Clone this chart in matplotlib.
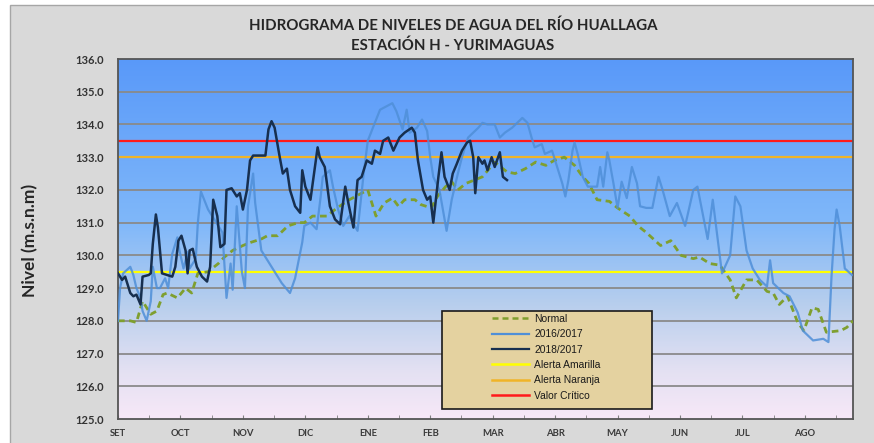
import numpy as np
import matplotlib.pyplot as plt
from matplotlib.patches import Rectangle
from matplotlib.lines import Line2D

# -----------------------------
# Data (days counted from 1 SET, level in m.s.n.m)
# -----------------------------
months = ["SET", "OCT", "NOV", "DIC", "ENE", "FEB", "MAR", "ABR", "MAY", "JUN", "JUL", "AGO"]

normal_day = [0, 6, 9, 12, 16, 19, 22, 24, 29, 33, 36, 39, 44, 49, 52, 56, 61, 65, 70, 73,
              78, 83, 88, 91, 95, 102, 107, 113, 122, 126, 130, 134, 137, 140, 145, 148, 153,
              156, 160, 163, 166, 170, 174, 178, 184, 190, 194, 199, 204, 209, 213, 218, 223,
              227, 230, 234, 240, 244, 250, 254, 258, 265, 270, 275, 281, 284, 289, 294, 299,
              302, 307, 312, 317, 320, 323, 327, 332, 335, 339, 342, 346, 353, 356, 359]
normal_lvl = [128.0, 128.0, 127.95, 128.6, 128.2, 128.3, 128.8, 128.85, 128.7, 129.0, 128.85,
              129.45, 129.5, 129.75, 129.95, 130.15, 130.3, 130.4, 130.5, 130.6, 130.6, 130.9,
              131.0, 131.0, 131.2, 131.2, 131.45, 131.7, 132.0, 131.2, 131.6, 131.75, 131.5,
              131.7, 131.7, 131.55, 131.45, 131.8, 132.1, 132.25, 132.0, 132.2, 132.3, 132.4,
              132.85, 132.55, 132.5, 132.65, 132.85, 132.75, 132.9, 133.0, 132.75, 132.4, 132.2,
              131.7, 131.65, 131.45, 131.2, 130.9, 130.7, 130.3, 130.45, 130.0, 129.9, 129.95,
              129.75, 129.7, 129.25, 128.7, 129.25, 129.25, 128.9, 128.85, 128.5, 128.75, 127.95,
              127.7, 128.4, 128.35, 127.65, 127.7, 127.8, 128.0]

y2016_day = [0, 1, 2.5, 6, 7.5, 9, 11, 12, 14, 16, 17, 19, 20.5, 23, 24.5, 26.5, 29, 30, 32, 34,
             35, 38, 39, 40.5, 44, 47, 51, 53, 55, 56, 58, 60.5, 62, 63.5, 66, 67, 70, 73, 77,
             80, 84, 86.5, 90, 91, 94, 97, 99, 100, 103.5, 105, 107.5, 110, 113, 117, 120, 122,
             124.5, 128, 131, 134, 136, 139, 141, 142.5, 146, 148.5, 151, 152.5, 154, 157,
             160.5, 163, 166, 168, 171, 176, 178, 180.5, 184, 186.5, 189, 192.5, 197.5, 200,
             202, 203.5, 207, 208.5, 212, 214.5, 217, 218.5, 220, 222, 223, 224.5, 227, 229.5,
             234, 235.5, 237, 239, 240, 242, 244, 246, 248.5, 251, 253.5, 255, 258, 261, 264,
             266, 269.5, 273, 277, 281, 283, 288, 290.5, 295, 299, 301.5, 304, 307, 310, 313.5,
             317, 318.5, 320, 325, 328, 332, 334.5, 339.5, 344.5, 347, 348.5, 350, 351, 352.5,
             355, 358.5]
y2016_lvl = [128.0, 129.0, 129.45, 129.65, 129.4, 129.0, 128.7, 128.3, 128.0, 128.6, 129.65,
             129.0, 129.0, 129.3, 129.0, 130.05, 130.55, 130.15, 129.6, 130.1, 129.6, 129.9,
             131.0, 131.95, 131.4, 131.1, 130.7, 128.7, 129.75, 128.95, 131.5, 129.5, 129.0,
             131.5, 132.5, 131.6, 130.15, 129.85, 129.45, 129.15, 128.85, 129.3, 130.4, 130.9,
             131.0, 130.8, 131.8, 132.4, 132.6, 132.1, 131.4, 130.9, 131.2, 130.75, 132.5,
             133.5, 133.9, 134.45, 134.55, 134.65, 134.4, 133.85, 134.45, 133.75, 133.9, 134.15,
             133.8, 133.0, 132.4, 132.0, 130.75, 131.7, 132.5, 133.0, 133.6, 133.9, 134.05,
             134.0, 134.0, 133.6, 133.75, 133.9, 134.2, 134.05, 133.6, 133.3, 133.4, 133.1,
             133.2, 132.7, 132.2, 131.8, 132.3, 133.2, 133.45, 133.1, 132.4, 132.1, 132.1,
             132.7, 132.1, 133.15, 132.9, 132.2, 131.45, 132.25, 131.75, 132.7, 132.2, 131.5,
             131.45, 131.45, 132.4, 132.0, 131.2, 131.6, 130.9, 132.0, 132.1, 130.5, 131.7,
             129.45, 130.0, 131.8, 131.5, 130.15, 129.6, 129.25, 129.05, 129.85, 129.15, 128.85,
             128.75, 128.25, 127.7, 127.4, 127.45, 127.35, 129.35, 130.8, 131.4, 130.9, 129.6,
             129.4]

y2018_day = [0, 2, 3.5, 6, 7.5, 9, 11, 12, 15, 16, 17, 18.5, 19.5, 21.5, 24, 26.5, 28, 29.5,
             31, 33, 34, 35, 36.5, 38.5, 41, 43.5, 45, 46.5, 48.5, 50, 52, 53, 55.5, 58, 59.5,
             61, 63, 64.5, 66, 72, 73.5, 75, 76.5, 79, 80.5, 82.5, 84, 86.5, 89, 90, 91.5, 94,
             97.5, 98.5, 101, 103.5, 106, 108.5, 111, 112.5, 115, 117, 119, 121.5, 124, 125.5,
             128, 129.5, 132, 134.5, 137.5, 140, 143.5, 145, 146.5, 149, 151, 152.5, 154,
             156.5, 158, 159.5, 162, 163.5, 165.5, 168, 170.5, 172, 173.5, 174.5, 176, 178,
             179, 180.5, 182.5, 184, 186.5, 188, 190]
y2018_lvl = [129.45, 129.25, 129.35, 128.85, 128.75, 128.8, 128.5, 129.35, 129.4, 129.45,
             130.35, 131.25, 130.85, 129.45, 129.4, 129.35, 129.65, 130.45, 130.6, 130.15,
             129.45, 130.15, 130.2, 129.65, 129.35, 129.2, 129.65, 131.7, 131.2, 130.25, 130.35,
             132.0, 132.05, 131.8, 131.9, 131.4, 132.0, 132.9, 133.05, 133.05, 133.85, 134.1,
             133.9, 133.0, 132.5, 132.65, 132.0, 131.5, 131.3, 132.6, 132.1, 131.7, 133.3,
             133.0, 132.7, 131.5, 131.1, 130.95, 132.1, 131.6, 130.85, 132.3, 132.4, 132.9,
             132.8, 133.2, 133.1, 133.5, 133.6, 133.2, 133.6, 133.75, 133.9, 133.75, 132.9,
             132.0, 131.7, 131.8, 131.0, 132.4, 133.15, 132.4, 132.0, 132.5, 132.8, 133.2,
             133.45, 133.5, 133.0, 131.9, 133.0, 132.8, 132.9, 132.6, 133.0, 132.7, 133.15,
             132.4, 132.3]

alerta_amarilla = 129.5
alerta_naranja = 133.0
valor_critico = 133.5

# -----------------------------
# Figure
# -----------------------------
fig = plt.figure(figsize=(8.74, 4.43), dpi=100, facecolor="white")
fig.patches.append(Rectangle((10 / 874, -0.01), 1, 1 - 5 / 443 + 0.01, transform=fig.transFigure,
                             facecolor="#d9d9d9", edgecolor="#a6a6a6", lw=1.0, zorder=-10))

ax = fig.add_axes([118 / 874, 24 / 443, 735 / 874, 360 / 443])
ax.set_zorder(1)
x_max = 359
ax.set_xlim(0, x_max)
ax.set_ylim(125, 136)

# gradient background
stops = np.array([125, 126.5, 128.5, 131, 136])
cols = np.array([[0.97, 0.91, 0.97],
                 [0.89, 0.88, 0.95],
                 [0.72, 0.81, 0.93],
                 [0.50, 0.72, 0.98],
                 [0.35, 0.60, 0.98]])
yy = np.linspace(125, 136, 300)
grad = np.stack([np.interp(yy, stops, cols[:, k]) for k in range(3)], axis=-1)
ax.imshow(grad[::-1, None, :], extent=[0, x_max, 125, 136], aspect="auto", zorder=0)

for v in np.arange(126, 136, 1.0):
    ax.axhline(v, color="#8a8a8a", lw=1.3, zorder=1)

ax.axhline(alerta_amarilla, color="#ffff00", lw=1.6, zorder=2)
ax.axhline(alerta_naranja, color="#f0b428", lw=1.6, zorder=2)
ax.axhline(valor_critico, color="#ff1a1a", lw=1.6, zorder=2)

ax.plot(normal_day, normal_lvl, color="#7f9f2f", lw=2.0, ls=(0, (2.4, 1.6)), zorder=3,
        dash_joinstyle="round")
ax.plot(y2016_day, y2016_lvl, color="#4f8fd8", lw=1.6, alpha=0.85, zorder=3.5,
        solid_joinstyle="round")
ax.plot(y2018_day, y2018_lvl, color="#172f4f", lw=1.8, zorder=4, solid_joinstyle="round")

# axes styling
month_pos = np.arange(len(months)) * 30.5
ax.set_xticks(month_pos)
ax.set_xticklabels(months, fontfamily="Lato", fontweight="bold", fontsize=6.8, color="#3a3a3a")
ax.set_xticks(month_pos + 15.25, minor=True)
ax.tick_params(axis="x", which="both", direction="in", length=3, color="#808080", pad=7)
ax.set_yticks(np.arange(125, 136.5, 1.0))
ax.set_yticklabels([f"{v:.1f}" for v in np.arange(125, 136.5, 1.0)],
                   fontfamily="Lato", fontweight="bold", fontsize=8, color="#333333")
ax.tick_params(axis="y", length=0, pad=10)
for s in ax.spines.values():
    s.set_color("#555555")
    s.set_linewidth(1.3)

fig.text(453 / 874, 1 - 26 / 443, "HIDROGRAMA DE NIVELES DE AGUA DEL RÍO HUALLAGA",
         ha="center", va="center", fontfamily="Lato", fontweight="bold", fontsize=10.8,
         color="#262626")
fig.text(453 / 874, 1 - 46 / 443, "ESTACIÓN H - YURIMAGUAS",
         ha="center", va="center", fontfamily="Lato", fontweight="bold", fontsize=10.8,
         color="#262626")
fig.text(30 / 874, 1 - 240 / 443, "Nivel (m.s.n.m)", rotation=90, ha="center", va="center",
         fontfamily="Lato", fontweight="bold", fontsize=12.5, color="#262626")

# legend (parchment box + frameless legend)
ax.add_patch(Rectangle((324 / 735, 10 / 360), 210 / 735, 98 / 360, transform=ax.transAxes,
                       facecolor="#e4d2a0", edgecolor="#1a1a1a", lw=1.2, zorder=5))
handles = [
    Line2D([], [], color="#7f9f2f", lw=1.8, ls=(0, (2.4, 1.6))),
    Line2D([], [], color="#4f8fd8", lw=1.6),
    Line2D([], [], color="#172f4f", lw=1.6),
    Line2D([], [], color="#ffff00", lw=1.8),
    Line2D([], [], color="#f0b428", lw=1.8),
    Line2D([], [], color="#ff1a1a", lw=1.8),
]
labels = ["Normal", "2016/2017", "2018/2017", "Alerta Amarilla", "Alerta Naranja", "Valor Crítico"]
leg = ax.legend(handles, labels, loc="upper left", bbox_to_anchor=(374 / 735, 105 / 360),
                frameon=False, borderpad=0, borderaxespad=0, handlelength=3.6,
                handletextpad=0.5, labelspacing=0.52,
                prop={"family": "Liberation Sans", "size": 7.4})
leg.set_zorder(6)
for t in leg.get_texts():
    t.set_color("#1a1a1a")

plt.savefig("out.png", dpi=100, facecolor=fig.get_facecolor())
